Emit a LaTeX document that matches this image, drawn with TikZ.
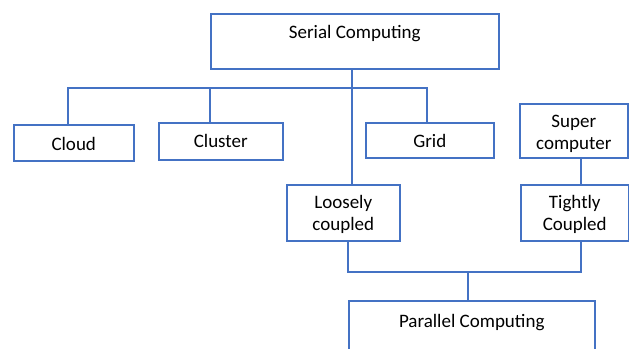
\documentclass[tikz,border=0pt]{standalone}
\usepackage{fontspec}
\setmainfont{Carlito}
\definecolor{bl}{HTML}{4472C4}
\begin{document}
\begin{tikzpicture}[x=1pt,y=-1pt,
  box/.style={draw=bl, line width=1.5pt, fill=white, inner sep=0pt, anchor=north west, align=center, font=\fontsize{19}{22.5}\selectfont},
  conn/.style={draw=bl, line width=2.2pt}]
\useasboundingbox (0,0) rectangle (629,348);
\node[box, minimum width=288pt, minimum height=55pt] (serial) at (210,13) {\raisebox{8pt}[\height][\depth]{Serial Computing}};
\node[box, minimum width=120pt, minimum height=36pt] (cloud) at (13,124) {\raisebox{-1pt}[\height][\depth]{Cloud}};
\node[box, minimum width=124pt, minimum height=37pt] (cluster) at (158,122) {Cluster};
\node[box, minimum width=128pt, minimum height=35pt] (grid) at (365,122) {\raisebox{-1pt}[\height][\depth]{Grid}};
\node[box, minimum width=108pt, minimum height=54pt] (super) at (519,103) {\raisebox{-3pt}[\height][\depth]{\begin{tabular}{@{}c@{}}Super\\computer\end{tabular}}};
\node[box, minimum width=113pt, minimum height=56pt] (loose) at (286,184) {\raisebox{-2pt}[\height][\depth]{\begin{tabular}{@{}c@{}}Loosely\\coupled\end{tabular}}};
\node[box, minimum width=108pt, minimum height=56pt] (tight) at (520,184) {\raisebox{-2pt}[\height][\depth]{\begin{tabular}{@{}c@{}}Tightly\\Coupled\end{tabular}}};
\node[box, minimum width=246pt, minimum height=54pt] (par) at (348,300) {\raisebox{5pt}[\height][\depth]{Parallel Computing}};
\coordinate (j) at (352,88);
\coordinate (a1) at (68,88);
\coordinate (a2) at (210,88);
\coordinate (a3) at (427,88);
\coordinate (s) at (581,0);
\coordinate (b1) at (348,272);
\coordinate (b2) at (581,272);
\coordinate (b3) at (468,272);
\draw[conn] (j |- serial.south) -- (j |- loose.north);
\draw[conn] (a1 |- cloud.north) -- (a1) -- (a3) -- (a3 |- grid.north);
\draw[conn] (a2) -- (a2 |- cluster.north);
\draw[conn] (s |- super.south) -- (s |- tight.north);
\draw[conn] (b1 |- loose.south) -- (b1) -- (b2) -- (b2 |- tight.south);
\draw[conn] (b3) -- (b3 |- par.north);
\end{tikzpicture}
\end{document}
